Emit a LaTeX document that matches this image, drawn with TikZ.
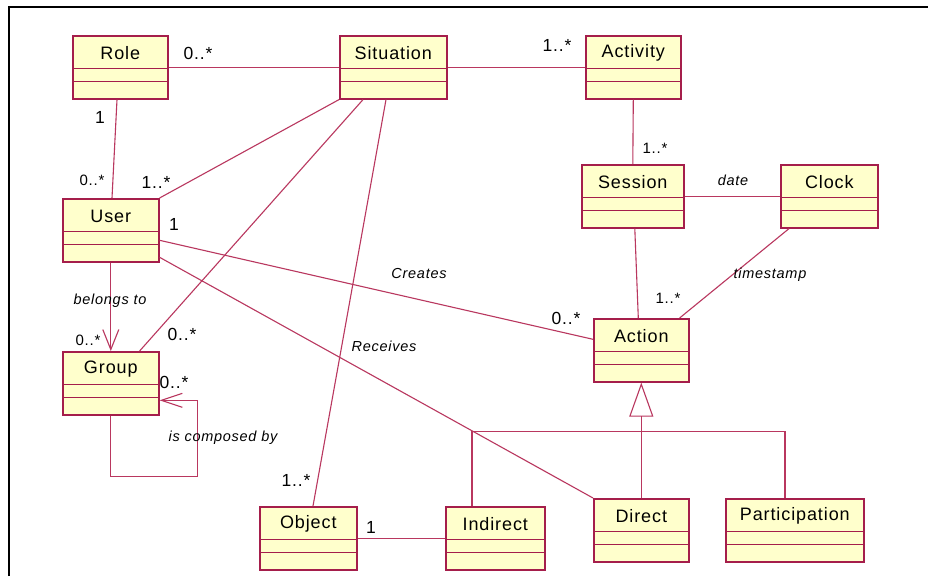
\documentclass[tikz,border=0pt]{standalone}
\usepackage{fontspec}
\setmainfont{Liberation Sans}[LetterSpace=5]
\usepackage{tikz}
\usetikzlibrary{arrows.meta}

\definecolor{umlfill}{RGB}{255,255,204}
\definecolor{umlborder}{RGB}{165,30,75}
\definecolor{umlline}{RGB}{185,55,95}

\tikzset{
  classbox/.style={draw=umlborder, fill=umlfill, line width=1.6pt, minimum height=63pt, inner sep=0pt},
  compline/.style={draw=umlborder, line width=1pt},
  assoc/.style={draw=umlline, line width=1.1pt},
  mult/.style={font=\fontsize{17.5}{18}\selectfont, inner sep=0pt},
  smallmult/.style={font=\fontsize{15}{15}\selectfont, inner sep=0pt},
  rolename/.style={font=\itshape\fontsize{14.5}{15}\selectfont, inner sep=0pt},
}

% name, left, top, width, text
\newcommand{\umlclass}[5]{%
  \node[classbox, minimum width=#4pt, anchor=north west] (#1) at (#2,#3) {};
  \draw[compline] ([yshift=-33pt]#1.north west) -- ([yshift=-33pt]#1.north east);
  \draw[compline] ([yshift=-46pt]#1.north west) -- ([yshift=-46pt]#1.north east);
  \node[font=\fontsize{18}{18}\selectfont, inner sep=0pt] at ([yshift=-18pt]#1.north) {#5};
}

\begin{document}
\begin{tikzpicture}[x=1pt,y=-1pt]
\path[use as bounding box, fill=white] (0,0) rectangle (928,576);
\draw[black, line width=2pt] (9,576) -- (9,7) -- (928,7);

% classes
\umlclass{role}{72}{35}{95}{Role}
\umlclass{situation}{339}{35}{107}{Situation}
\umlclass{activity}{585}{35}{95}{Activity}
\umlclass{session}{581}{164}{102}{Session}
\umlclass{clock}{780}{164}{97}{Clock}
\umlclass{user}{62}{198}{96}{User}
\umlclass{group}{62}{351}{96}{Group}
\umlclass{action}{593}{318}{95}{Action}
\umlclass{object}{259}{506}{97}{Object}
\umlclass{indirect}{445}{506}{99}{Indirect}
\umlclass{direct}{593}{498}{95}{Direct}
\umlclass{participation}{725}{498}{138}{Participation}

% associations
\draw[assoc] (role.east) -- (situation.west);
\draw[assoc] (situation.east) -- (activity.west);
\draw[assoc] ([xshift=45pt]role.south west) -- ([xshift=50pt]user.north west);
\draw[assoc] (situation.south west) -- (user.north east);
\draw[assoc] ([xshift=24pt]situation.south west) -- ([xshift=-20pt]group.north east);
\draw[assoc] ([xshift=47pt]situation.south west) -- ([xshift=54pt]object.north west);
\draw[assoc] (activity.south) -- (session.north);
\draw[assoc] (session.east) -- (clock.west);
\draw[assoc] ([xshift=2pt]session.south) -- ([xshift=-3pt]action.north);
\draw[assoc] ([xshift=9pt]clock.south west) -- ([xshift=-10pt]action.north east);
\draw[assoc] ([yshift=-10pt]user.east) -- ([yshift=11pt]action.west);
\draw[assoc] ([yshift=-27pt]user.east) -- (direct.north west);
\draw[assoc] (object.east) -- (indirect.west);
\draw[assoc, -{Straight Barb[length=20pt,width=16pt]}] (user.south) -- (group.north);

% group self loop
\coordinate (loopcorner) at ([xshift=38pt,yshift=-17pt]group.east);
\draw[assoc, -{Straight Barb[length=21pt,width=14pt]}] (group.south) -- ++(0,61) -| (loopcorner) -- ([yshift=-17pt]group.east);

% generalization
\coordinate (genjoint) at ([yshift=-49pt]action.south);
\coordinate (indtop) at ([xshift=27pt]indirect.north west);
\coordinate (parttop) at ([xshift=60pt]participation.north west);
\draw[assoc, -{Triangle[open, length=34pt, width=24pt]}] (genjoint) -- (action.south);
\draw[assoc] (indtop) |- (genjoint) -| (parttop);
\draw[assoc] (genjoint) -- (direct.north);

% multiplicities
\node[mult] at (198,53) {0..*};
\node[mult] at (557,45) {1..*};
\node[mult] at (100,117) {1};
\node[smallmult] at (92,180) {0..*};
\node[mult] at (156,182) {1..*};
\node[mult] at (174,224) {1};
\node[smallmult] at (655,148) {1..*};
\node[smallmult] at (668,298) {1..*};
\node[mult] at (566,318) {0..*};
\node[smallmult] at (88,340) {0..*};
\node[mult] at (182,334) {0..*};
\node[mult] at (174,382) {0..*};
\node[mult] at (296,480) {1..*};
\node[mult] at (371,527) {1};

% role names
\node[rolename] at (419,274) {Creates};
\node[rolename] at (733,180) {date};
\node[rolename] at (770,275) {timestamp};
\node[rolename] at (110,301) {belongs to};
\node[rolename] at (384,346) {Receives};
\node[rolename] at (223,438) {is composed by};
\end{tikzpicture}
\end{document}
